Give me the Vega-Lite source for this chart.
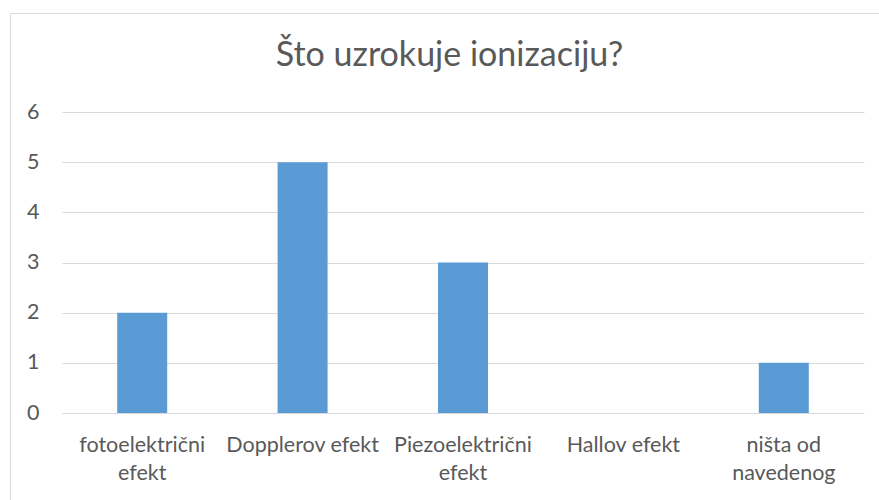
{
  "$schema": "https://vega.github.io/schema/vega-lite/v6.json",
  "width": 869,
  "height": 487,
  "autosize": {"type": "none"},
  "padding": {"left": 10, "top": 13, "right": 0, "bottom": 0},
  "background": "white",
  "config": {"view": {"stroke": "#d9d9d9", "strokeWidth": 1}, "font": "Lato"},
  "title": {
    "text": "Što uzrokuje ionizaciju?",
    "font": "Lato",
    "fontSize": 34,
    "fontWeight": "normal",
    "color": "#595959",
    "anchor": "middle",
    "frame": "group",
    "baseline": "alphabetic",
    "offset": 0,
    "dy": 87,
    "dx": 5
  },
  "data": {
    "values": [
      {"kategorija": "fotoelektrični efekt", "broj": 2},
      {"kategorija": "Dopplerov efekt", "broj": 5},
      {"kategorija": "Piezoelektrični efekt", "broj": 3},
      {"kategorija": "Hallov efekt", "broj": 0},
      {"kategorija": "ništa od navedenog", "broj": 1}
    ]
  },
  "mark": {"type": "bar", "width": 50, "color": "#5b9bd5"},
  "encoding": {
    "x": {
      "field": "kategorija",
      "type": "nominal",
      "sort": null,
      "scale": {"range": [52, 854], "paddingInner": 0, "paddingOuter": 0},
      "axis": {
        "title": null,
        "domain": false,
        "ticks": false,
        "grid": false,
        "labelAngle": 0,
        "labelFont": "Lato",
        "labelFontSize": 21.5,
        "labelColor": "#595959",
        "labelLineHeight": 28,
        "labelPadding": -66,
        "labelLimit": 300,
        "labelExpr": "datum.value == 'fotoelektrični efekt' ? ['fotoelektrični','efekt'] : datum.value == 'Piezoelektrični efekt' ? ['Piezoelektrični','efekt'] : datum.value == 'ništa od navedenog' ? ['ništa od','navedenog'] : datum.value"
      }
    },
    "y": {
      "field": "broj",
      "type": "quantitative",
      "scale": {"domain": [0, 6], "range": [400, 99], "nice": false, "zero": true},
      "axis": {
        "title": null,
        "values": [0, 1, 2, 3, 4, 5, 6],
        "domain": false,
        "ticks": false,
        "grid": true,
        "gridColor": "#d9d9d9",
        "gridWidth": 1,
        "gridOpacity": 1,
        "labelFont": "Lato",
        "labelFontSize": 21.5,
        "labelColor": "#595959",
        "labelPadding": -29,
        "labelBaseline": "middle"
      }
    }
  }
}
